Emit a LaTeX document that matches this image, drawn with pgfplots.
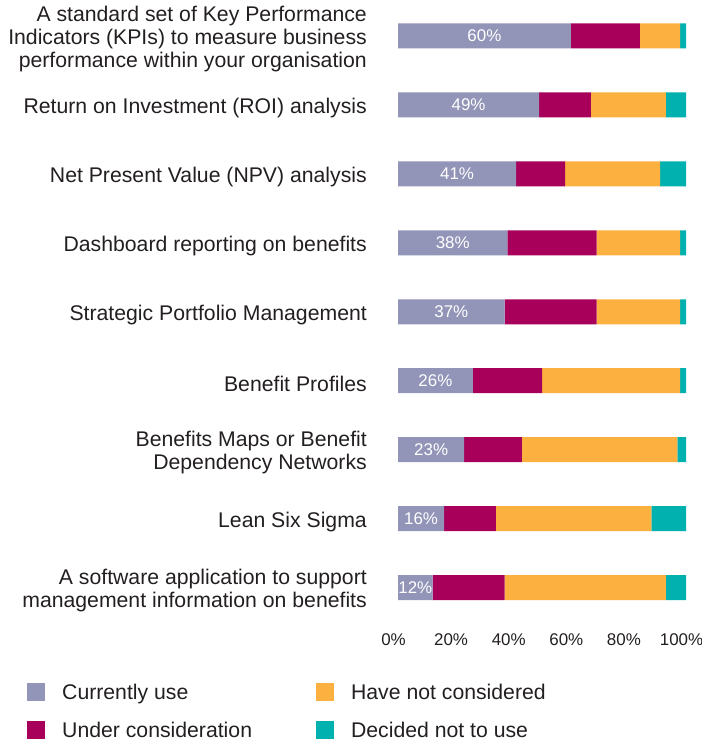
\documentclass[border=0pt]{standalone}
\usepackage{pgfplots}
\pgfplotsset{compat=1.18}
\usepackage{pgfplotstable}
\usepackage{fontspec}
\setmainfont{Liberation Sans}

\definecolor{cuse}{RGB}{146,148,184}
\definecolor{cund}{RGB}{168,0,90}
\definecolor{chav}{RGB}{251,176,64}
\definecolor{cdec}{RGB}{0,177,175}
\definecolor{ctxt}{RGB}{35,31,32}

% share of respondents, per method (top to bottom)
\pgfplotstableread{
y cur und hav dec
0 60 24 14 2
1 49 18 26 7
2 41 17 33 9
3 38 31 29 2
4 37 32 29 2
5 26 24 48 2
6 23 20 54 3
7 16 18 54 12
8 12 25 56 7
}\data

\pgfplotsset{frame/.style={
    at={(398bp,-622bp)}, anchor=south west,
    scale only axis, width=288bp, height=620.5bp,
    xmin=0, xmax=100, ymin=-0.5, ymax=8.5, y dir=reverse}}

\begin{document}
\begin{tikzpicture}
\begin{axis}[
    frame,
    xbar stacked, bar width=25bp,
    axis line style={draw=none}, major tick length=0pt,
    xtick={0,20,40,60,80,100},
    xticklabels={0\%,20\%,40\%,60\%,80\%,100\%},
    xticklabel style={font=\fontsize{17}{20}\selectfont, text=ctxt, inner sep=0pt, yshift=-11bp, xshift=-4.5bp},
    ytick={0,...,8},
    yticklabels={
      {A standard set of Key Performance\\Indicators (KPIs) to measure business\\performance within your organisation},
      {Return on Investment (ROI) analysis},
      {Net Present Value (NPV) analysis},
      {Dashboard reporting on benefits},
      {Strategic Portfolio Management},
      {Benefit Profiles},
      {Benefits Maps or Benefit\\Dependency Networks},
      {Lean Six Sigma},
      {A software application to support\\management information on benefits}},
    yticklabel style={font=\fontsize{21.3}{23}\selectfont, text=ctxt, align=right, inner sep=0pt, xshift=-31bp, yshift=-3bp},
    legend style={at={(-1.2882,-0.0983)}, anchor=north west, draw=none, inner sep=0pt,
        font=\fontsize{21.3}{24}\selectfont, text=ctxt,
        nodes={inner sep=0pt}, column sep=17bp, row sep=20bp,
        /tikz/every even column/.append style={column sep=64bp}},
    legend columns=2, transpose legend, legend cell align=left,
    legend image code/.code={\fill[#1] (0bp,-9bp) rectangle (18bp,9bp);},
]
\addplot[fill=cuse, draw=none] table[x=cur, y=y] {\data};
\addplot[fill=cund, draw=none] table[x=und, y=y] {\data};
\addplot[fill=chav, draw=none] table[x=hav, y=y] {\data};
\addplot[fill=cdec, draw=none] table[x=dec, y=y] {\data};
\legend{Currently use, Under consideration, Have not considered, Decided not to use}
\end{axis}
% labels in the middle of the first segment
\begin{axis}[frame, hide axis]
\addplot[draw=none, mark=none, point meta=explicit symbolic,
    nodes near coords={\pgfplotspointmeta\%},
    every node near coord/.style={anchor=center, text=white, font=\fontsize{17}{20}\selectfont}]
    table[x expr=\thisrow{cur}/2, y=y, meta=cur] {\data};
\end{axis}
\pgfresetboundingbox
\path[use as bounding box] (0,0) rectangle (702bp,-744bp);
\end{tikzpicture}
\end{document}
